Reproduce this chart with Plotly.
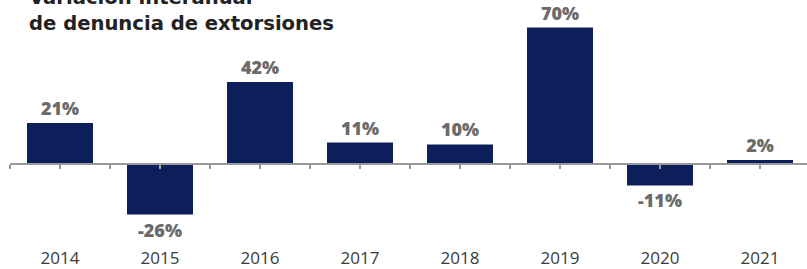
import plotly.graph_objects as go

years = ["2014", "2015", "2016", "2017", "2018", "2019", "2020", "2021"]
values = [21, -26, 42, 11, 10, 70, -11, 2]
labels = [f"{v}%" for v in values]
title_lines = ["Variación interanual", "de denuncia de extorsiones"]

W, H = 807, 269
ml, mt, mb = 10, 10, 23
ph = H - mt - mb
pw = W - ml
y_min, y_max = -42.1, 79.0
zero_pos = (0 - y_min) / (y_max - y_min)

fig = go.Figure()
fig.add_trace(go.Bar(
    x=list(range(len(years))), y=values, width=0.66,
    marker=dict(color="#0c1f5b", line=dict(width=0)),
    text=labels, textposition="outside", cliponaxis=False,
    textfont=dict(family="Open Sans", size=18, color="#6b6b6b", weight=800),
))
fig.add_trace(go.Scatter(x=[0], y=[0], xaxis="x2", mode="markers",
                         marker=dict(opacity=0), hoverinfo="skip", showlegend=False))

tickpos = [i * 0.5 - 0.5 for i in range(2 * len(years) + 1)]

def py(px):
    return 1 + (mt - px) / ph

title_font = dict(family="DejaVu Sans", size=19.6, color="#222222")
fig.update_layout(
    width=W, height=H, margin=dict(l=ml, r=0, t=mt, b=mb),
    plot_bgcolor="white", paper_bgcolor="white", showlegend=False,
    xaxis=dict(range=[-0.5, 7.47], tickvals=list(range(len(years))), ticktext=years,
               showline=False, showgrid=False, zeroline=False, ticks="", automargin=False,
               tickfont=dict(family="Open Sans", size=17, color="#3a3a3a")),
    xaxis2=dict(range=[-0.5, 7.47], overlaying="x", anchor="free", position=zero_pos,
                side="bottom", showline=True, linecolor="#9a9a9a", linewidth=1.5,
                ticks="outside", ticklen=4, tickwidth=1.5, tickcolor="#9a9a9a",
                tickvals=tickpos, showticklabels=False, showgrid=False, zeroline=False),
    yaxis=dict(range=[y_min, y_max], visible=False, showgrid=False, zeroline=False),
    annotations=[
        dict(text=f"<b>{title_lines[0]}</b>", xref="paper", yref="paper",
             x=(27 - ml) / pw, y=py(-2), xanchor="left", yanchor="middle",
             showarrow=False, font=title_font),
        dict(text=f"<b>{title_lines[1]}</b>", xref="paper", yref="paper",
             x=(27 - ml) / pw, y=py(24), xanchor="left", yanchor="middle",
             showarrow=False, font=title_font),
    ],
)
fig.write_html("out.html", config={"displayModeBar": False},
               post_script="document.body.style.margin='0';")
